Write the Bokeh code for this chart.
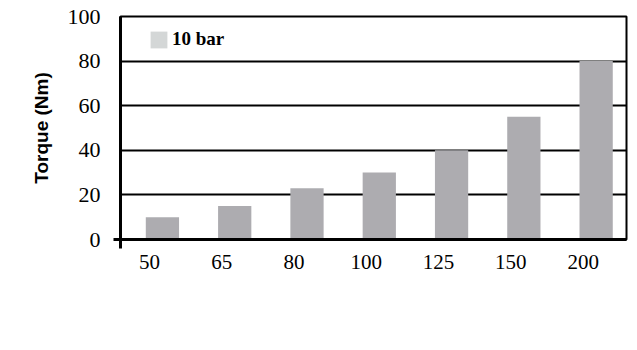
from bokeh.plotting import figure
from bokeh.models import FixedTicker, Range1d, ColumnDataSource, Legend, LegendItem
from bokeh.transform import dodge
from bokeh.embed import file_html
from bokeh.resources import INLINE

categories = ["50", "65", "80", "100", "125", "150", "200"]
torque = [10, 15, 23, 30, 40, 55, 80]
y_ticks = [0, 20, 40, 60, 80, 100]
series_name = "10 bar"

xpos = list(range(len(categories)))
src = ColumnDataSource(dict(x=xpos, top=torque))

x_start, x_end = -0.4, len(categories) - 0.4
p = figure(width=637, height=342, output_backend="svg", toolbar_location=None,
           x_range=Range1d(x_start, x_end), y_range=Range1d(0, 100),
           min_border_left=120, min_border_right=11, min_border_top=16, min_border_bottom=103)
p.background_fill_color = "white"
p.border_fill_color = "white"
p.outline_line_color = "black"
p.outline_line_width = 2

p.vbar(x=dodge("x", 0.18, range=p.x_range), top="top", bottom=0, width=0.46, source=src,
       fill_color="#adacb0", line_color=None)
leg_r = p.vbar(x=[float("nan")], top=[float("nan")], width=0.46,
               fill_color="#d4d7d7", line_color=None)

legend = Legend(items=[LegendItem(label=series_name, renderers=[leg_r])],
                location=(28, 189), orientation="vertical")
legend.background_fill_alpha = 0
legend.border_line_color = None
legend.padding = 0
legend.margin = 0
legend.glyph_width = 21
legend.glyph_height = 21
legend.label_height = 21
legend.label_standoff = 3
legend.label_text_font = "Liberation Serif"
legend.label_text_font_style = "bold"
legend.label_text_font_size = "19px"
legend.label_text_color = "black"
p.add_layout(legend, "center")

p.xgrid.grid_line_color = None
p.ygrid.grid_line_color = "black"
p.ygrid.grid_line_width = 2
p.ygrid.ticker = FixedTicker(ticks=y_ticks)

p.xaxis.ticker = FixedTicker(ticks=xpos, minor_ticks=[x_start])
p.xaxis.major_label_overrides = {x: c for x, c in zip(xpos, categories)}
p.xaxis.major_tick_out = 0
p.xaxis.major_tick_in = 0
p.xaxis.minor_tick_out = 9
p.xaxis.minor_tick_in = 0
p.xaxis.minor_tick_line_width = 3
p.xaxis.axis_line_width = 3
p.xaxis.major_label_text_font = "Liberation Serif"
p.xaxis.major_label_text_font_size = "21px"
p.xaxis.major_label_text_color = "black"
p.xaxis.major_label_standoff = 6

p.yaxis.ticker = FixedTicker(ticks=y_ticks, minor_ticks=[0])
p.yaxis.major_tick_out = 0
p.yaxis.major_tick_in = 0
p.yaxis.minor_tick_out = 7
p.yaxis.minor_tick_in = 0
p.yaxis.minor_tick_line_width = 3
p.yaxis.axis_line_width = 3
p.yaxis.major_label_text_font = "Liberation Serif"
p.yaxis.major_label_text_font_size = "22px"
p.yaxis.major_label_text_color = "black"
p.yaxis.major_label_standoff = 13
p.yaxis.axis_label = "Torque (Nm)"
p.yaxis.axis_label_text_font = "Liberation Sans"
p.yaxis.axis_label_text_font_style = "bold"
p.yaxis.axis_label_text_font_size = "19px"
p.yaxis.axis_label_text_color = "black"
p.yaxis.axis_label_standoff = 13

open("out.html", "w").write(file_html(p, INLINE))
